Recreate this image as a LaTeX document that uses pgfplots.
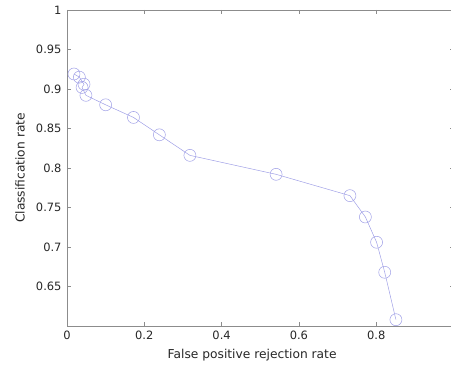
\documentclass[border=0pt]{standalone}
\usepackage{pgfplots}
\pgfplotsset{compat=1.18}
\usepackage{fontspec}
\setmainfont{DejaVu Sans}
\definecolor{lineblue}{RGB}{160,160,230}
\definecolor{axgray}{RGB}{140,140,140}
\begin{document}
\begin{tikzpicture}[x=1bp,y=1bp]
\path[use as bounding box] (0,0) rectangle (451,368);
\begin{axis}[
  at={(67bp,42bp)}, anchor=south west,
  scale only axis, width=386.5bp, height=316bp,
  xmin=0, xmax=1, ymin=0.6, ymax=1,
  xtick={0,0.2,0.4,0.6,0.8},
  ytick={0.65,0.7,0.75,0.8,0.85,0.9,0.95,1},
  yticklabels={0.65,0.7,0.75,0.8,0.85,0.9,0.95,1},
  xticklabels={0,0.2,0.4,0.6,0.8},
  tick align=inside, major tick length=4bp,
  axis line style={axgray, line width=0.6pt},
  tick style={axgray, line width=0.6pt},
  ticklabel style={font=\fontsize{11.5}{13}\selectfont, text=black!85},
  xticklabel style={yshift=-1bp},
  yticklabel style={xshift=-2bp},
  label style={font=\fontsize{12.3}{14}\selectfont, text=black!85},
  xlabel={False positive rejection rate},
  ylabel={Classification rate},
  xlabel style={at={(axis description cs:0.479,0)}, anchor=center, yshift=-29bp},
  ylabel style={at={(axis description cs:-0.1216,0.5)}, anchor=center},
  /pgf/number format/assume math mode=true,
  clip=false,
]
\addplot[color=lineblue, line width=0.5pt, mark=o, mark size=6bp, mark options={line width=0.5pt}] coordinates {
(0.018,0.919)
(0.032,0.915)
(0.044,0.906)
(0.039,0.902)
(0.049,0.892)
(0.100,0.880)
(0.172,0.864)
(0.239,0.842)
(0.318,0.816)
(0.541,0.792)
(0.732,0.765)
(0.772,0.738)
(0.801,0.706)
(0.822,0.668)
(0.851,0.608)
};
\end{axis}
\end{tikzpicture}
\end{document}
